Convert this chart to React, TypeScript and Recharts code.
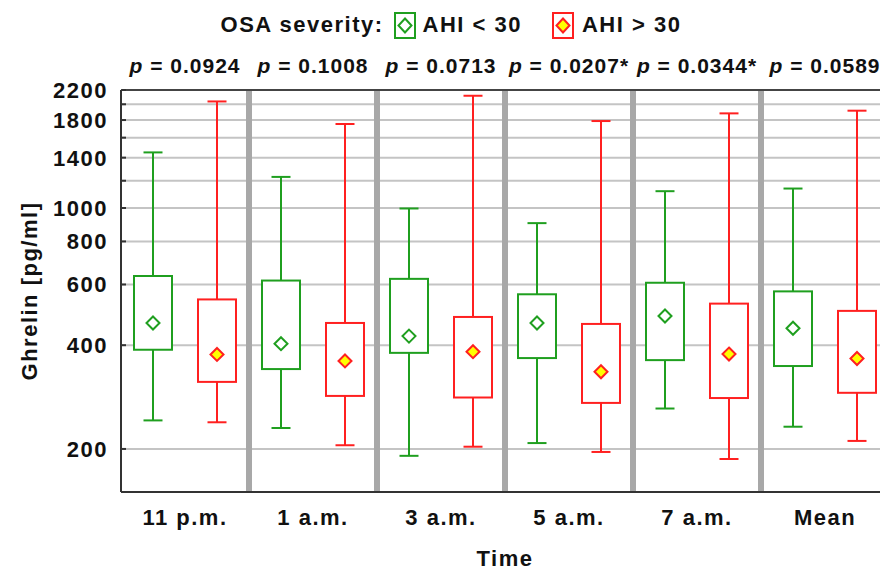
import React from 'react';
import { ComposedChart, Bar, XAxis, YAxis, CartesianGrid, ReferenceLine, Legend, Label } from 'recharts';

const times = ['11 p.m.', '1 a.m.', '3 a.m.', '5 a.m.', '7 a.m.', 'Mean'];
const pValues = ['0.0924', '0.1008', '0.0713', '0.0207*', '0.0344*', '0.0589'];

// AHI < 30
const lowMin = [242, 230, 191, 208, 262, 232];
const lowQ1 = [388, 341, 380, 367, 362, 348];
const lowMean = [464, 404, 425, 464, 486, 448];
const lowQ3 = [635, 616, 623, 562, 607, 573];
const lowMax = [1450, 1231, 997, 904, 1119, 1139];

// AHI > 30
const highMin = [239, 205, 203, 196, 187, 211];
const highQ1 = [313, 285, 282, 272, 281, 291];
const highMean = [376, 360, 383, 335, 377, 366];
const highQ3 = [543, 464, 483, 461, 528, 503];
const highMax = [2038, 1753, 2117, 1788, 1882, 1916];

const yTicks = [200, 400, 600, 800, 1000, 1200, 1400, 1600, 1800, 2000, 2200];
const yLabels = [200, 400, 600, 800, 1000, 1400, 1800, 2200];

const GREEN = '#1f9f1f';
const RED = '#ff2020';
const YELLOW = '#ffff00';
const FONT = '"Liberation Sans", Arial, sans-serif';
const INK = '#111';

const data = times.map((time, i) => ({
  time,
  p: pValues[i],
  low: [lowMin[i], lowMax[i]],
  lowQ1: lowQ1[i],
  lowMean: lowMean[i],
  lowQ3: lowQ3[i],
  high: [highMin[i], highMax[i]],
  highQ1: highQ1[i],
  highMean: highMean[i],
  highQ3: highQ3[i],
}));

// box + whiskers; the bar spans min..max, inner values placed on the same log scale
const BoxShape = (props: any) => {
  const { x, y, width, height, payload, group, stroke, meanFill } = props;
  const [min, max] = payload[group];
  const lmin = Math.log(min);
  const lmax = Math.log(max);
  const py = (v: number) => y + (height * (lmax - Math.log(v))) / (lmax - lmin);
  const cx = x + width / 2;
  const cap = width / 4;
  const q1 = py(payload[group + 'Q1']);
  const q3 = py(payload[group + 'Q3']);
  const m = py(payload[group + 'Mean']);
  const d = 6.5;
  return (
    <g stroke={stroke} strokeWidth={2} fill="none">
      <line x1={cx} x2={cx} y1={py(max)} y2={q3} />
      <line x1={cx} x2={cx} y1={q1} y2={py(min)} />
      <line x1={cx - cap} x2={cx + cap} y1={py(max)} y2={py(max)} />
      <line x1={cx - cap} x2={cx + cap} y1={py(min)} y2={py(min)} />
      <rect x={x} y={q3} width={width} height={q1 - q3} fill="#fff" />
      <polygon points={`${cx},${m - d} ${cx + d},${m} ${cx},${m + d} ${cx - d},${m}`} fill={meanFill} />
    </g>
  );
};

const YTick = (props: any) => {
  const { x, y, payload } = props;
  return (
    <g>
      <line x1={x + 14} x2={x + 18} y1={y} y2={y} stroke="#333" strokeWidth={2} />
      {yLabels.includes(payload.value) && (
        <text x={x} y={y} dy={8} textAnchor="end" fontFamily={FONT} fontWeight="bold" fontSize={22} letterSpacing={1.5} fill={INK}>
          {payload.value}
        </text>
      )}
    </g>
  );
};

const XTick = (props: any) => {
  const { x, y, payload } = props;
  return (
    <text x={x} y={y + 33} textAnchor="middle" fontFamily={FONT} fontWeight="bold" fontSize={22} letterSpacing={1.5} fill={INK}>
      {payload.value}
    </text>
  );
};

const PTick = (props: any) => {
  const { x, y, index } = props;
  return (
    <text x={x} y={y - 17} textAnchor="middle" fontFamily={FONT} fontWeight="bold" fontSize={21} letterSpacing={1} fill={INK}>
      <tspan fontStyle="italic">p</tspan> = {pValues[index]}
    </text>
  );
};

const LegendIcon = ({ stroke, fill }: { stroke: string; fill: string }) => (
  <svg width={22} height={27} style={{ display: 'block' }}>
    <rect x={1} y={1} width={20} height={25} fill="#fff" stroke={stroke} strokeWidth={2} />
    <polygon points="11,6.5 17.5,13.5 11,20.5 4.5,13.5" fill={fill} stroke={stroke} strokeWidth={2} />
  </svg>
);

const LegendContent = () => (
  <div
    style={{
      height: 50,
      display: 'flex',
      alignItems: 'center',
      justifyContent: 'center',
      paddingLeft: 13,
      fontFamily: FONT,
      fontWeight: 'bold',
      fontSize: 22,
      letterSpacing: 1.5,
      color: INK,
    }}
  >
    <span>OSA severity:</span>
    <span style={{ width: 10 }} />
    <LegendIcon stroke={GREEN} fill="#fff" />
    <span style={{ marginLeft: 7 }}>AHI &lt; 30</span>
    <span style={{ width: 30 }} />
    <LegendIcon stroke={RED} fill={YELLOW} />
    <span style={{ marginLeft: 8 }}>AHI &gt; 30</span>
  </div>
);

export default function App() {
  return (
    <div style={{ position: 'absolute', left: 0, top: 0, width: 880, height: 570, overflow: 'hidden', background: '#fff' }}>
      <ComposedChart
        width={890}
        height={570}
        data={data}
        margin={{ top: 0, right: 1, bottom: 0, left: 0 }}
        barGap={26}
        barCategoryGap={0}
      >
        <Legend verticalAlign="top" content={<LegendContent />} />
        <CartesianGrid vertical={false} stroke="#c4c4c4" strokeWidth={2} xAxisId="main" />
        {times.slice(1).map((t) => (
          <ReferenceLine key={t} xAxisId="main" x={t} position="start" stroke="#a8a8a8" strokeWidth={6} />
        ))}
        <Bar
          xAxisId="main"
          dataKey="low"
          barSize={38}
          isAnimationActive={false}
          shape={(p: any) => <BoxShape {...p} group="low" stroke={GREEN} meanFill="#fff" />}
        />
        <Bar
          xAxisId="main"
          dataKey="high"
          barSize={38}
          isAnimationActive={false}
          shape={(p: any) => <BoxShape {...p} group="high" stroke={RED} meanFill={YELLOW} />}
        />
        <XAxis
          xAxisId="main"
          dataKey="time"
          height={78}
          tickSize={0}
          tickMargin={0}
          tick={<XTick />}
          axisLine={{ stroke: '#333', strokeWidth: 2 }}
        >
          <Label value="Time" position="insideBottom" offset={4} style={{ fontFamily: FONT, fontWeight: 'bold', fontSize: 22, letterSpacing: 1.5, fill: INK }} />
        </XAxis>
        <XAxis
          xAxisId="top"
          dataKey="time"
          orientation="top"
          height={40}
          tickSize={0}
          tickMargin={0}
          tick={<PTick />}
          axisLine={{ stroke: '#444', strokeWidth: 2 }}
        />
        <YAxis
          scale="log"
          domain={[150, 2200]}
          allowDataOverflow
          ticks={yTicks}
          interval={0}
          width={121}
          tickSize={0}
          tickMargin={13}
          tick={<YTick />}
          axisLine={{ stroke: '#333', strokeWidth: 2 }}
        >
          <Label
            value="Ghrelin [pg/ml]"
            angle={-90}
            position="insideLeft"
            offset={29}
            style={{ textAnchor: 'middle', fontFamily: FONT, fontWeight: 'bold', fontSize: 22, letterSpacing: 1.5, fill: INK }}
          />
        </YAxis>
      </ComposedChart>
    </div>
  );
}
